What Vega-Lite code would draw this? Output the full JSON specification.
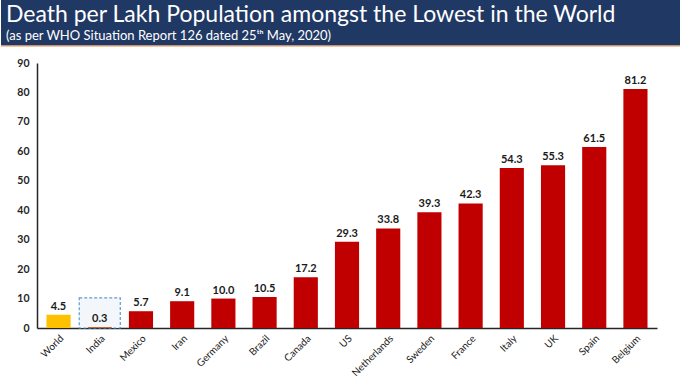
{
  "$schema": "https://vega.github.io/schema/vega-lite/v6.json",
  "padding": 0,
  "autosize": {"type": "pad"},
  "background": "white",
  "spacing": 11,
  "config": {"font": "Lato", "view": {"stroke": null}},
  "vconcat": [
    {
      "width": 680,
      "height": 46,
      "view": {"fill": "#203864", "stroke": null},
      "title": {
        "text": "Death per Lakh Population amongst the Lowest in the World",
        "subtitle": "(as per WHO Situation Report 126 dated 25ᵗʰ May, 2020)",
        "anchor": "start",
        "frame": "group",
        "orient": "top",
        "offset": -43,
        "dx": 5,
        "color": "white",
        "subtitleColor": "white",
        "font": "Lato",
        "subtitleFont": "Lato",
        "fontSize": 23,
        "fontWeight": "normal",
        "subtitleFontSize": 13,
        "subtitlePadding": 3
      },
      "data": {"values": [{"edge": 0}]},
      "mark": {"type": "rule", "color": "#F4B183", "strokeWidth": 1.5},
      "encoding": {
        "y": {"field": "edge", "type": "quantitative", "scale": {"domain": [0, 1]}, "axis": null}
      }
    },
    {
      "width": 656,
      "height": 265,
      "data": {
        "values": [
          {"country": "World", "value": 4.5, "group": "World"},
          {"country": "India", "value": 0.3, "group": "India"},
          {"country": "Mexico", "value": 5.7, "group": "Other"},
          {"country": "Iran", "value": 9.1, "group": "Other"},
          {"country": "Germany", "value": 10.0, "group": "Other"},
          {"country": "Brazil", "value": 10.5, "group": "Other"},
          {"country": "Canada", "value": 17.2, "group": "Other"},
          {"country": "US", "value": 29.3, "group": "Other"},
          {"country": "Netherlands", "value": 33.8, "group": "Other"},
          {"country": "Sweden", "value": 39.3, "group": "Other"},
          {"country": "France", "value": 42.3, "group": "Other"},
          {"country": "Italy", "value": 54.3, "group": "Other"},
          {"country": "UK", "value": 55.3, "group": "Other"},
          {"country": "Spain", "value": 61.5, "group": "Other"},
          {"country": "Belgium", "value": 81.2, "group": "Other"}
        ]
      },
      "encoding": {
        "x": {
          "field": "country",
          "type": "nominal",
          "sort": null,
          "scale": {
            "domain": ["World", "India", "Mexico", "Iran", "Germany", "Brazil", "Canada", "US", "Netherlands", "Sweden", "France", "Italy", "UK", "Spain", "Belgium"],
            "range": [36, 656],
            "paddingInner": 0.414,
            "paddingOuter": 0.23
          },
          "axis": {
            "title": null,
            "labelAngle": -45,
            "ticks": false,
            "domainColor": "#262626",
            "domainWidth": 1.5,
            "labelFontSize": 10,
            "labelColor": "#1a1a1a",
            "labelPadding": 5
          }
        },
        "y": {
          "field": "value",
          "type": "quantitative",
          "scale": {"domain": [0, 90], "nice": false},
          "axis": {
            "title": null,
            "values": [0, 10, 20, 30, 40, 50, 60, 70, 80, 90],
            "tickCount": 10,
            "grid": false,
            "ticks": false,
            "offset": -36,
            "domainColor": "#262626",
            "domainWidth": 1.5,
            "labelFontSize": 10.5,
            "labelFontWeight": "bold",
            "labelColor": "#262626",
            "labelPadding": 8,
            "labelOverlap": false
          }
        }
      },
      "layer": [
        {
          "data": {"values": [{"country": "India", "value": 10.2}]},
          "mark": {"type": "bar", "width": {"band": 1.7}, "fill": "#F3F7FC", "stroke": "#5B9BD5", "strokeDash": [3, 2], "strokeWidth": 1.2}
        },
        {
          "mark": {"type": "bar"},
          "encoding": {
            "color": {
              "field": "group",
              "type": "nominal",
              "scale": {"domain": ["World", "India", "Other"], "range": ["#FFC000", "#C55A11", "#C00000"]},
              "legend": null
            }
          }
        },
        {
          "mark": {"type": "text", "dy": -8, "fontSize": 11, "fontWeight": "bold", "color": "#1a1a1a"},
          "encoding": {
            "text": {"field": "value", "type": "quantitative", "format": ".1f"}
          }
        }
      ]
    }
  ]
}
